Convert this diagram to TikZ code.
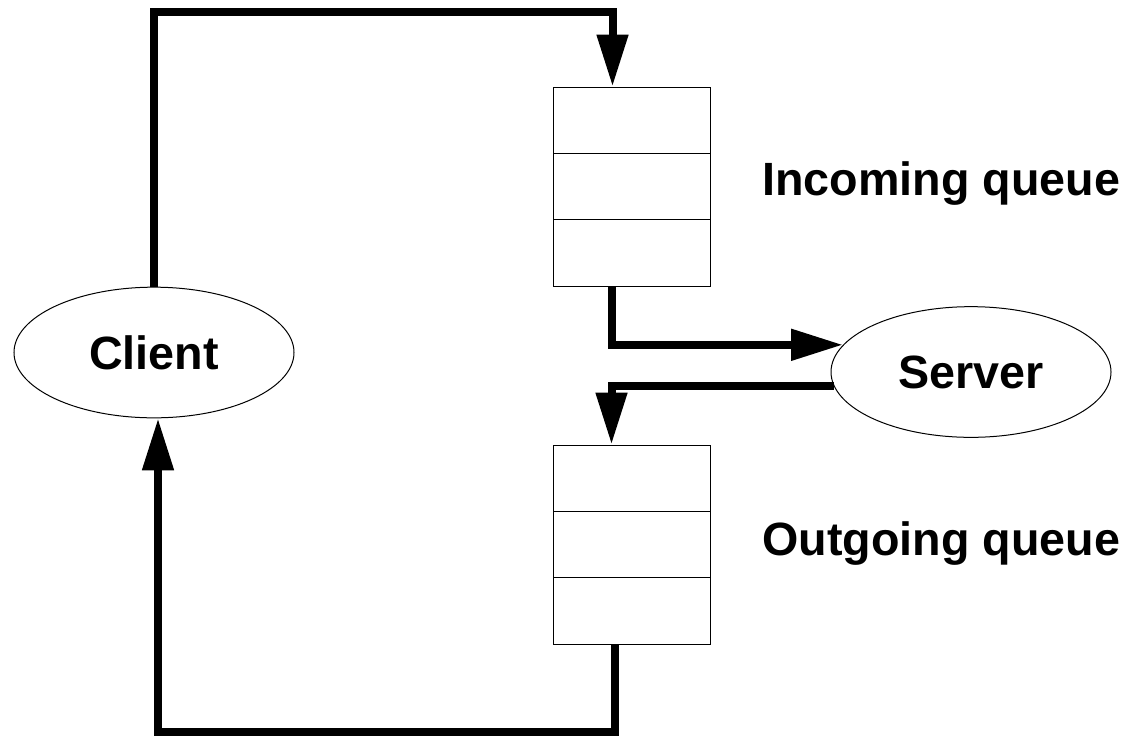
\documentclass[tikz,border=0pt]{standalone}
\usepackage{fontspec}
\setmainfont{Liberation Sans}
\usepackage{tikz}
\usetikzlibrary{arrows.meta,shapes.geometric,calc}

\tikzset{
  proc/.style={ellipse, draw, line width=0.75pt, inner sep=0pt,
    minimum width=210pt, minimum height=98pt},
  cell/.style={rectangle, draw, line width=0.75pt, inner sep=0pt,
    minimum width=117.75pt, minimum height=49.8pt},
  flow/.style={line width=6pt, -{Triangle[length=39pt,width=22.5pt]}},
  flowline/.style={line width=6pt},
  lbl/.style={font=\fontsize{35}{42}\selectfont\bfseries}
}

\begin{document}
\begin{tikzpicture}[x=0.75pt, y=-0.75pt]
\useasboundingbox (0,0) rectangle (1134,736);
\node[proc, lbl] (client) at (154,352.5) {Client};
\node[proc, lbl] (server) at (971,372) {Server};
\foreach \i in {1,2,3} {
    \node[cell] (inq\i) at (631.5, {87+66.4*(\i-0.5)}) {};
    \node[cell] (outq\i) at (631.5, {445+66.4*(\i-0.5)}) {};
}
\node[lbl, anchor=base west, inner sep=0pt] (inlabel) at (762,195) {Incoming queue};
\node[lbl, anchor=base west, inner sep=0pt] (outlabel) at (762,555) {Outgoing queue};
\coordinate (ceil) at (0,12);
\coordinate (floor) at (0,732);
% client -> incoming queue
\draw[flow] (client.north) -- (client.north |- ceil) -| ([xshift=45pt]inq1.north west);
% incoming queue -> server
\draw[flow] ([xshift=44.25pt]inq3.south west) |- (server.168);
% server -> outgoing queue
\draw[flow] (server.186) -| ([xshift=44.25pt]outq1.north west);
% outgoing queue -> client
\draw[flow] ([xshift=46.5pt]outq3.south west) -- ([xshift=46.5pt]outq3.south west |- floor)
    -| ([xshift=3pt]client.south);
\end{tikzpicture}
\end{document}
